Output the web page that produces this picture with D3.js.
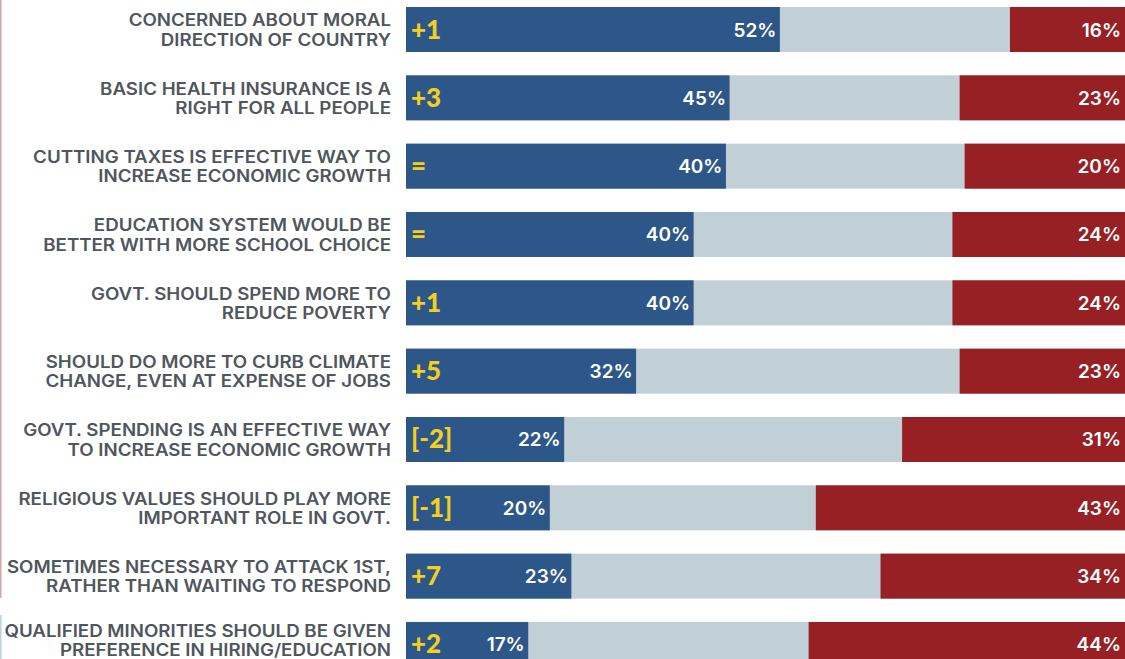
<!DOCTYPE html>
<html>
<head>
<meta charset="utf-8">
<script src="https://cdn.jsdelivr.net/npm/d3@7"></script>
<style>
  html, body { margin: 0; padding: 0; background: #fff; }
  svg { display: block; }
</style>
</head>
<body>
<svg id="chart" width="1125" height="659"></svg>
<script>
// ---- data ----
const labels = [
  ["CONCERNED ABOUT MORAL", "DIRECTION OF COUNTRY"],
  ["BASIC HEALTH INSURANCE IS A", "RIGHT FOR ALL PEOPLE"],
  ["CUTTING TAXES IS EFFECTIVE WAY TO", "INCREASE ECONOMIC GROWTH"],
  ["EDUCATION SYSTEM WOULD BE", "BETTER WITH MORE SCHOOL CHOICE"],
  ["GOVT. SHOULD SPEND MORE TO", "REDUCE POVERTY "],
  ["SHOULD DO MORE TO CURB CLIMATE", "CHANGE, EVEN AT EXPENSE OF JOBS"],
  ["GOVT. SPENDING IS AN EFFECTIVE WAY", "TO INCREASE ECONOMIC GROWTH"],
  ["RELIGIOUS VALUES SHOULD PLAY MORE", "IMPORTANT ROLE IN GOVT."],
  ["SOMETIMES NECESSARY TO ATTACK 1ST,", "RATHER THAN WAITING TO RESPOND"],
  ["QUALIFIED MINORITIES SHOULD BE GIVEN", "PREFERENCE IN HIRING/EDUCATION"]
];
const changes   = ["+1", "+3", "=", "=", "+1", "+5", "[-2]", "[-1]", "+7", "+2"];
const agree     = [52, 45, 40, 40, 40, 32, 22, 20, 23, 17];   // printed % (blue)
const disagree  = [16, 23, 20, 24, 24, 23, 31, 43, 34, 44];   // printed % (red)
// bar lengths as drawn in the picture (row 3 is drawn longer than its label)
const agreeBar    = [52, 45, 44.5, 40, 40, 32, 22, 20, 23, 17];
const disagreeBar = [16, 23, 22.3, 24, 24, 23, 31, 43, 34, 44];

// ---- layout ----
const svg = d3.select("#chart");
const W = 1125, H = 659;
const barLeft = 406, barRight = 1125;
const x = d3.scaleLinear().domain([0, 100]).range([barLeft, barRight]);
const n = labels.length;
const step = 68.33;
const barH = 45;
const y = d3.scaleBand()
  .domain(d3.range(n))
  .range([7, 7 + step * (n - 1) + barH])
  .paddingInner((step - barH) / step)
  .paddingOuter(0)
  .align(0);

const C = {
  blue: "#2E5789",
  gray: "#C1CFD6",
  red: "#962023",
  yellow: "#F3CF1F",
  text: "#4F565D",
  white: "#FFFFFF"
};

// left edge accent lines
svg.append("rect").attr("x", 0).attr("y", 0).attr("width", 1.5).attr("height", 598).attr("fill", "#D3A6A6");
svg.append("rect").attr("x", 0).attr("y", 615).attr("width", 1.5).attr("height", 44).attr("fill", "#B9D0E1");

const rows = svg.selectAll("g.row")
  .data(d3.range(n))
  .join("g")
  .attr("class", "row");

// gray background (full width)
rows.append("rect")
  .attr("x", x(0))
  .attr("y", i => y(i))
  .attr("width", x(100) - x(0))
  .attr("height", y.bandwidth())
  .attr("fill", C.gray);

// blue (agree)
rows.append("rect")
  .attr("x", x(0))
  .attr("y", i => y(i))
  .attr("width", i => x(agreeBar[i]) - x(0))
  .attr("height", y.bandwidth())
  .attr("fill", C.blue);

// red (disagree)
rows.append("rect")
  .attr("x", i => x(100 - disagreeBar[i]))
  .attr("y", i => y(i))
  .attr("width", i => x(100) - x(100 - disagreeBar[i]))
  .attr("height", y.bandwidth())
  .attr("fill", C.red);

const font = "Inter, Lato, sans-serif";
const mid = i => y(i) + y.bandwidth() / 2;

// percent labels
rows.append("text")
  .attr("x", i => x(agreeBar[i]) - 3.5)
  .attr("y", i => mid(i) + 7)
  .attr("text-anchor", "end")
  .attr("font-family", font)
  .attr("font-weight", 600)
  .attr("font-size", 19)
  .attr("fill", C.white)
  .text(i => agree[i] + "%");

rows.append("text")
  .attr("x", barRight - 4)
  .attr("y", i => mid(i) + 7)
  .attr("text-anchor", "end")
  .attr("font-family", font)
  .attr("font-weight", 600)
  .attr("font-size", 19)
  .attr("fill", C.white)
  .text(i => disagree[i] + "%");

// change labels
rows.append("text")
  .attr("x", barLeft + 5)
  .attr("y", i => mid(i) + 9)
  .attr("font-family", "Lato, sans-serif")
  .attr("font-weight", 900)
  .attr("font-size", 26)
  .attr("fill", C.yellow)
  .text(i => changes[i]);

// row labels (two lines, right-aligned, slightly widened like the original typeface)
const labelRight = 391;
const lineBase = i => Math.min(mid(i) + 16.2, H - 2.5);
const lab = rows.append("text")
  .attr("transform", `translate(${labelRight},0) scale(1.1,1)`)
  .attr("text-anchor", "end")
  .attr("font-family", font)
  .attr("font-weight", 600)
  .attr("font-size", 17)
  .attr("fill", C.text);
lab.append("tspan")
  .attr("x", 0)
  .attr("y", i => lineBase(i) - 19.5)
  .text(i => labels[i][0]);
lab.append("tspan")
  .attr("x", 0)
  .attr("y", i => lineBase(i))
  .text(i => labels[i][1]);
</script>
</body>
</html>
